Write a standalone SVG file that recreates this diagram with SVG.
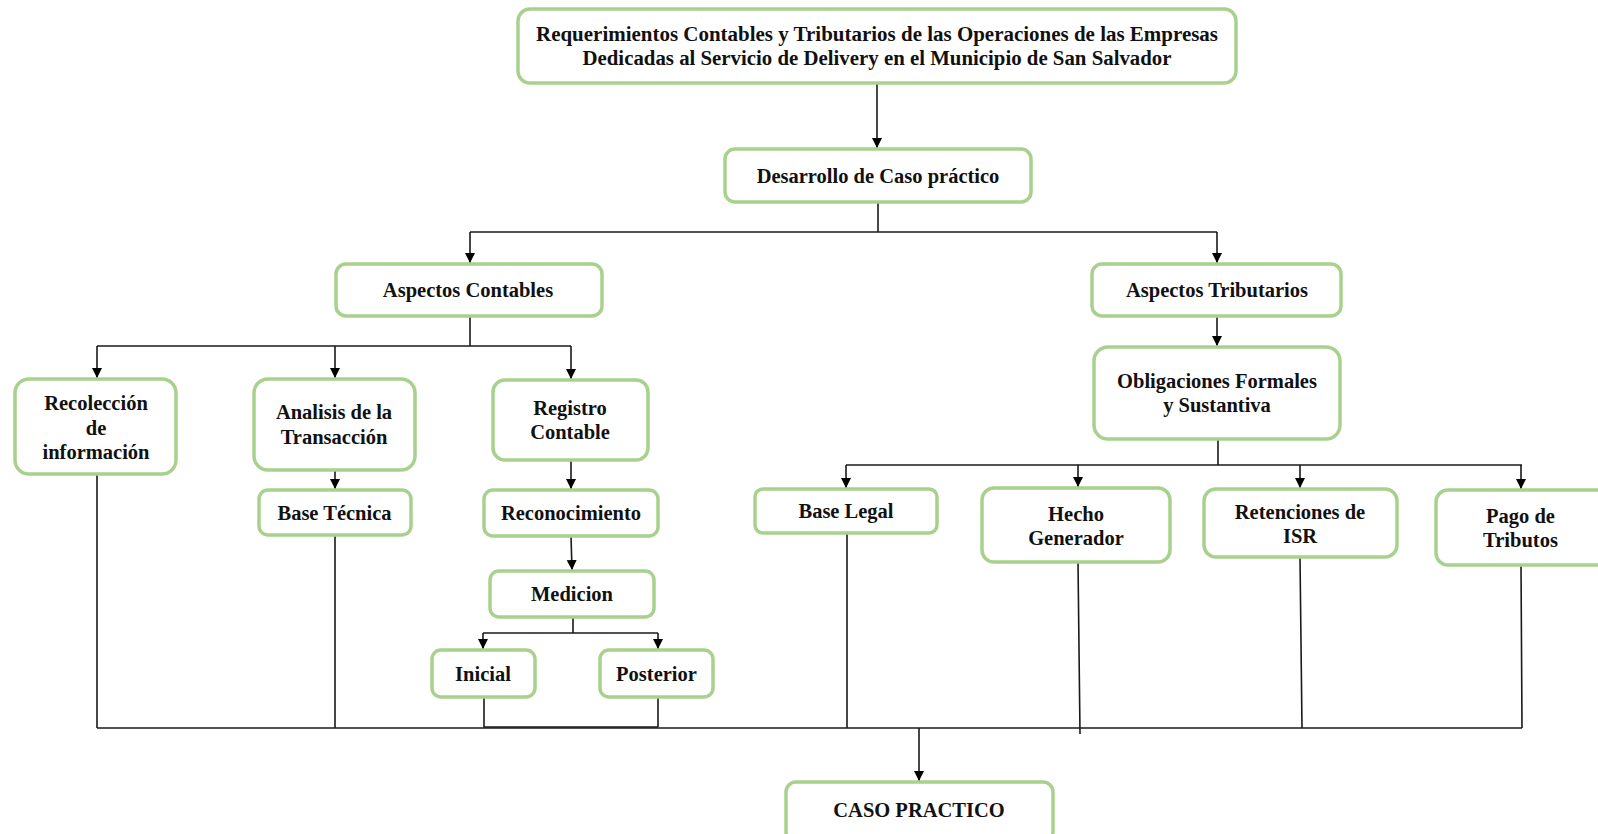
<svg xmlns="http://www.w3.org/2000/svg" width="1598" height="834" viewBox="0 0 1598 834">
<style>
.box{fill:#ffffff;stroke:#a9d18e;stroke-width:3.5}
.t{font-family:"Liberation Serif","Times New Roman",serif;font-weight:bold;font-size:20.5px;fill:#111;text-anchor:middle}
.ln{fill:none;stroke:#1a1a1a;stroke-width:1.6}
</style>
<defs>
<marker id="a" markerUnits="userSpaceOnUse" markerWidth="10" markerHeight="11" refX="10" refY="5" orient="auto" viewBox="0 0 10 10">
<path d="M0,0 L10,5 L0,10 Z" fill="#000"/>
</marker>
</defs>
<rect width="1598" height="834" fill="#ffffff"/>
<g id="connectors">
<path class="ln" d="M877,84 V148" marker-end="url(#a)"/>
<path class="ln" d="M878,202 V232 M470,232 H1217"/>
<path class="ln" d="M470,232 V263" marker-end="url(#a)"/>
<path class="ln" d="M1217,232 V263" marker-end="url(#a)"/>
<path class="ln" d="M470,316 V346 M97,346 H571"/>
<path class="ln" d="M97,346 V378" marker-end="url(#a)"/>
<path class="ln" d="M335,346 V378" marker-end="url(#a)"/>
<path class="ln" d="M571,346 V379" marker-end="url(#a)"/>
<path class="ln" d="M1217,316 V346" marker-end="url(#a)"/>
<path class="ln" d="M1218,439 V465 M846,465 H1522"/>
<path class="ln" d="M846,465 V488" marker-end="url(#a)"/>
<path class="ln" d="M1078,465 V487" marker-end="url(#a)"/>
<path class="ln" d="M1300,465 V488" marker-end="url(#a)"/>
<path class="ln" d="M1521,465 V489" marker-end="url(#a)"/>
<path class="ln" d="M335,470 V489" marker-end="url(#a)"/>
<path class="ln" d="M571,460 V489" marker-end="url(#a)"/>
<path class="ln" d="M571,536 L572,570" marker-end="url(#a)"/>
<path class="ln" d="M573,617 V633 M483,633 H658"/>
<path class="ln" d="M483,633 V649" marker-end="url(#a)"/>
<path class="ln" d="M658,633 V649" marker-end="url(#a)"/>
<path class="ln" d="M97,474 V728 M335,535 V728 M484,697 V727 H658 M658,697 V727 M847,533 V728 M1078,562 L1080,734 M1300,557 L1302,728 M1521,565 L1522,728"/>
<path class="ln" d="M97,728 H1522"/>
<path class="ln" d="M919,728 V781" marker-end="url(#a)"/>
</g>
<g id="n-top"><rect class="box" x="518" y="9" width="718" height="74" rx="12"/>
<text class="t" x="877" y="41" textLength="682" lengthAdjust="spacingAndGlyphs">Requerimientos  Contables  y Tributarios  de las Operaciones de las Empresas</text>
<text class="t" x="877" y="64.5" textLength="589" lengthAdjust="spacingAndGlyphs">Dedicadas al Servicio de Delivery en el Municipio  de San Salvador</text></g>
<g id="n-desarrollo"><rect class="box" x="725" y="149" width="306" height="53" rx="10"/>
<text class="t" x="878" y="183">Desarrollo de Caso práctico</text></g>
<g id="n-contables"><rect class="box" x="336" y="264" width="266" height="52" rx="10"/>
<text class="t" x="468" y="297">Aspectos Contables</text></g>
<g id="n-tributarios"><rect class="box" x="1092" y="264" width="249" height="52" rx="10"/>
<text class="t" x="1217" y="297">Aspectos Tributarios</text></g>
<g id="n-obligaciones"><rect class="box" x="1094" y="347" width="246" height="92" rx="14"/>
<text class="t" x="1217" y="387.5">Obligaciones  Formales</text>
<text class="t" x="1217" y="412">y Sustantiva</text></g>
<g id="n-recoleccion"><rect class="box" x="15" y="379" width="161" height="95" rx="14"/>
<text class="t" x="96" y="410">Recolección</text>
<text class="t" x="96" y="434.5">de</text>
<text class="t" x="96" y="459">información</text></g>
<g id="n-analisis"><rect class="box" x="254" y="379" width="161" height="91" rx="14"/>
<text class="t" x="334" y="419">Analisis de la</text>
<text class="t" x="334" y="443.5">Transacción</text></g>
<g id="n-registro"><rect class="box" x="493" y="380" width="155" height="80" rx="12"/>
<text class="t" x="570" y="415">Registro</text>
<text class="t" x="570" y="438.5">Contable</text></g>
<g id="n-basetecnica"><rect class="box" x="259" y="490" width="152" height="45" rx="9"/>
<text class="t" x="334.5" y="520">Base Técnica</text></g>
<g id="n-reconocimiento"><rect class="box" x="484" y="490" width="174" height="46" rx="9"/>
<text class="t" x="571" y="520">Reconocimiento</text></g>
<g id="n-medicion"><rect class="box" x="490" y="571" width="164" height="46" rx="9"/>
<text class="t" x="572" y="600.5">Medicion</text></g>
<g id="n-inicial"><rect class="box" x="432" y="650" width="103" height="47" rx="9"/>
<text class="t" x="483" y="681">Inicial</text></g>
<g id="n-posterior"><rect class="box" x="600" y="650" width="113" height="47" rx="9"/>
<text class="t" x="656.5" y="681">Posterior</text></g>
<g id="n-baselegal"><rect class="box" x="755" y="489" width="182" height="44" rx="8"/>
<text class="t" x="846" y="518">Base Legal</text></g>
<g id="n-hecho"><rect class="box" x="982" y="488" width="188" height="74" rx="12"/>
<text class="t" x="1076" y="521">Hecho</text>
<text class="t" x="1076" y="544.5">Generador</text></g>
<g id="n-retenciones"><rect class="box" x="1204" y="489" width="193" height="68" rx="12"/>
<text class="t" x="1300" y="519">Retenciones de</text>
<text class="t" x="1300" y="542.5">ISR</text></g>
<g id="n-pago"><rect class="box" x="1436" y="490" width="175" height="75" rx="12"/>
<text class="t" x="1520.5" y="523">Pago de</text>
<text class="t" x="1520.5" y="546.5">Tributos</text></g>
<g id="n-caso"><rect class="box" x="786" y="782" width="267" height="60" rx="10"/>
<text class="t" x="919" y="817">CASO PRACTICO</text></g>
</svg>
